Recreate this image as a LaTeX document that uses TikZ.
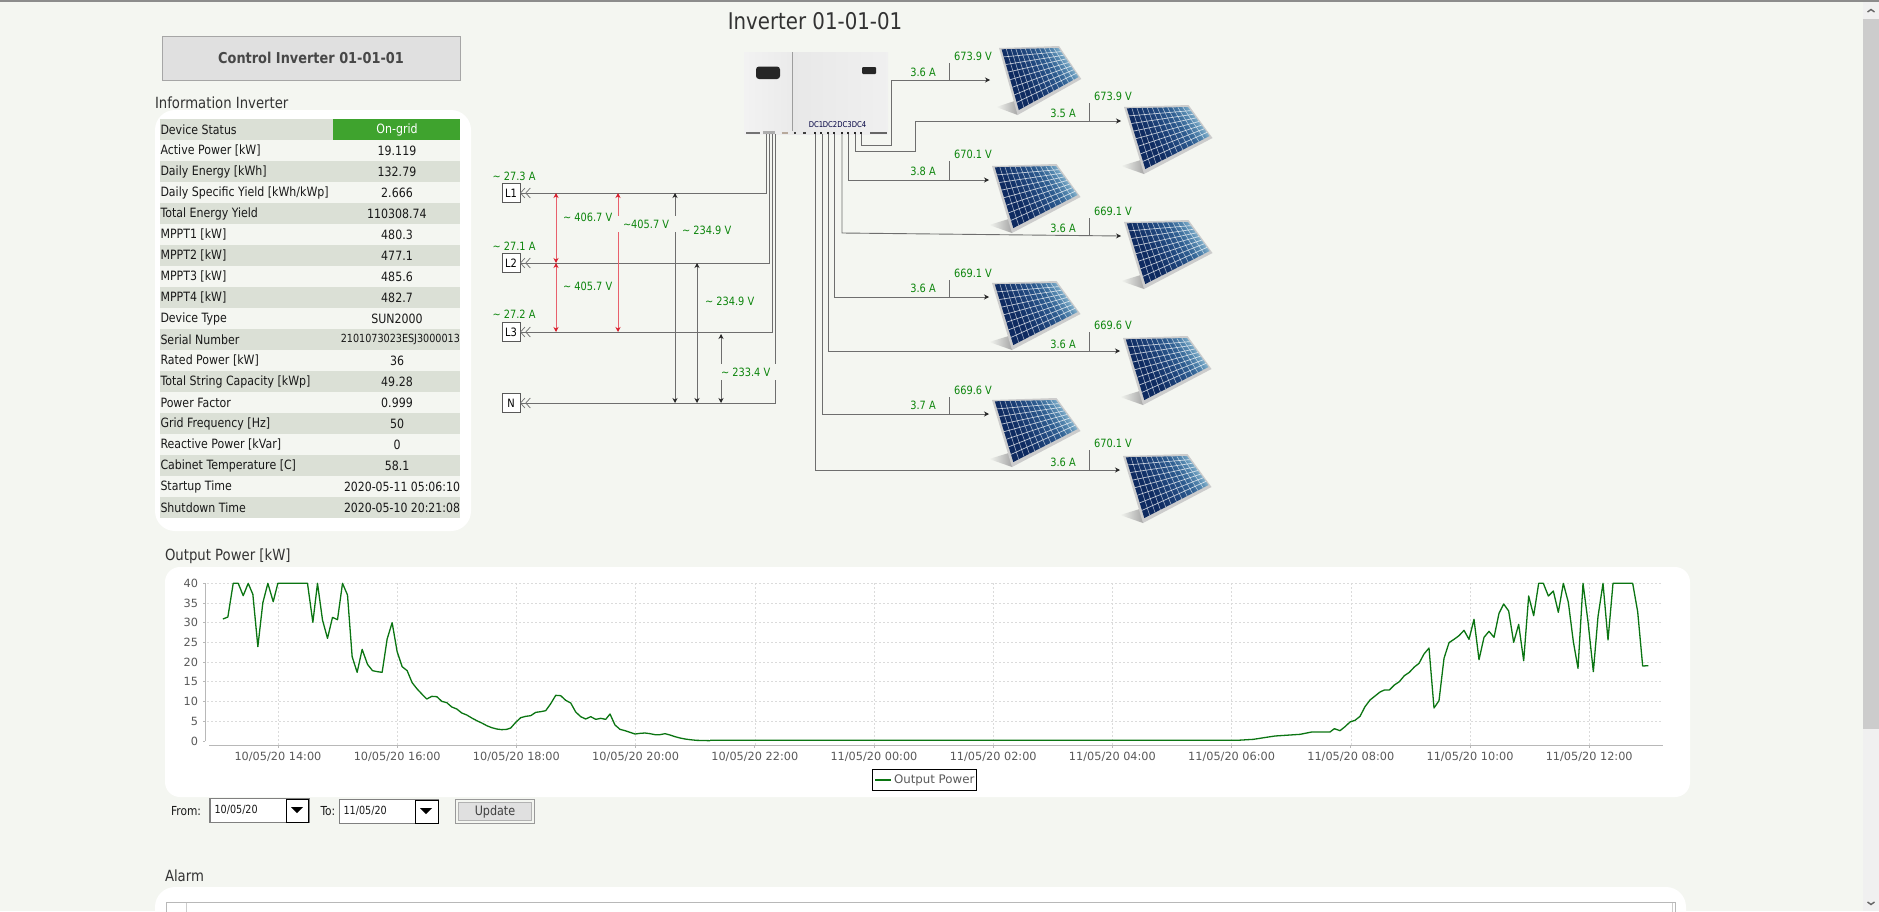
\documentclass[tikz,border=0pt]{standalone}
\usepackage{fontspec}
\usetikzlibrary{arrows.meta,calc}
\setmainfont{DejaVu Sans}
\newfontfamily\tah[FakeStretch=0.86]{DejaVu Sans}
\definecolor{pagebg}{HTML}{F4F6F1}
\definecolor{rowbg}{HTML}{DBE0D6}
\definecolor{wire}{HTML}{6E6E6E}
\definecolor{lblgreen}{HTML}{0C850C}
\definecolor{redwire}{HTML}{E8606C}
\definecolor{redtip}{HTML}{D81E2C}
\definecolor{curvegreen}{HTML}{0B7512}
\definecolor{navy}{HTML}{0E2A60}
\definecolor{midblue}{HTML}{1F457C}
\definecolor{steelblue}{HTML}{2F5F92}
\definecolor{lightblue}{HTML}{5A8DB3}
\definecolor{skyblue}{HTML}{A4CBDD}
\definecolor{ongreen}{HTML}{3FA32E}
\pgfdeclarehorizontalshading{pvshade}{100bp}{color(0bp)=(navy);color(38bp)=(navy);color(52bp)=(midblue);color(62bp)=(steelblue);color(70bp)=(lightblue);color(76bp)=(skyblue);color(100bp)=(skyblue)}
\tikzset{
  txt/.style={inner sep=0pt,outer sep=0pt,font=\tah\fontsize{12.8}{15}\selectfont,text=black!90},
  head/.style={txt,font=\tah\fontsize{15.4}{17}\selectfont,text=black!80},
  vlbl/.style={inner sep=0pt,outer sep=0pt,font=\tah\fontsize{11.4}{13}\selectfont,text=lblgreen},
  axl/.style={inner sep=0pt,outer sep=0pt,font=\fontsize{11.3}{13}\selectfont,text=black!65},
  conn/.style={draw=wire,line width=0.9pt},
  tipc/.style={conn,-{Stealth[length=5pt,width=5pt,color=black!85]}},
  volt/.style={conn,{Stealth[length=5pt,width=5pt,color=black!85]}-{Stealth[length=5pt,width=5pt,color=black!85]}},
  rvolt/.style={draw=redwire,line width=0.9pt,{Stealth[length=5pt,width=5pt,color=redtip]}-{Stealth[length=5pt,width=5pt,color=redtip]}},
  chev/.style={conn,-{Straight Barb[length=4.5pt,width=10pt,line width=.7pt]Straight Barb[length=4.5pt,width=10pt,line width=.7pt]}},
  phase/.style={draw=black!65,fill=white,line width=.9pt,minimum width=18pt,minimum height=19pt,inner sep=0pt,outer sep=0pt,font=\tah\fontsize{11.5}{13}\selectfont},
  griddash/.style={draw=black!14,line width=.6pt,dash pattern=on 2pt off 2pt},
  axisline/.style={draw=black!28,line width=.9pt},
  curve/.style={draw=curvegreen,line width=1.3pt,line join=round},
  selbox/.style={draw=black!50,line width=1.3pt,fill=white},
  selbtn/.style={draw=black,line width=1pt,fill=white}
}
\newcommand{\pvpanel}[3]{%
  \begin{scope}[shift={(#1,#2)},xscale=#3]
    \shade[left color=pagebg,right color=black!35] (-3,59) -- (20,52) -- (20,67) -- cycle;
    \fill[black!20] (0,0) -- (64.5,-2) -- (88.5,31) -- (20,67) -- cycle;
    \coordinate (PA) at (2.8,1.3); \coordinate (PB) at (64,0); \coordinate (PC) at (85.6,29); \coordinate (PD) at (21.3,62);
    \shade[shading=pvshade,shading angle=35] (PA) -- (PB) -- (PC) -- (PD) -- cycle;
    \foreach \t in {1,...,11}{\draw[white,opacity=.62,line width=.6pt] ($(PA)!\t/12!(PB)$) -- ($(PD)!\t/12!(PC)$);}
    \foreach \t in {1,...,7}{\draw[white,opacity=.72,line width=.7pt] ($(PA)!\t/8!(PD)$) -- ($(PB)!\t/8!(PC)$);}
  \end{scope}}
\newcommand{\rowfill}[2]{\ifnum#1=1 \fill[rowbg] (160,{119+21*(#2)}) rectangle (460,{140+21*(#2)});\else \fill[pagebg] (160,{119+21*(#2)}) rectangle (460,{140+21*(#2)});\fi}
\newcommand{\tabrow}[4]{%
  \rowfill{#1}{#2}
  \node[txt,anchor=west] (rowl#2) at (160.5,{129.5+21*(#2)}) {#3};
  \node[txt] (rowv#2) at (397,{129.5+21*(#2)}) {#4};}
\newcommand{\tabrowr}[5]{%
  \rowfill{#1}{#2}
  \node[txt,anchor=west] (rowl#2) at (160.5,{129.5+21*(#2)}) {#3};
  \node[txt,anchor=east,font=\tah\fontsize{#5}{14}\selectfont] (rowv#2) at (460,{129.5+21*(#2)}) {#4};}
\begin{document}
\begin{tikzpicture}[x=1pt,y=-1pt]
\useasboundingbox (0,0) rectangle (1879,911);
\fill[pagebg] (0,0) rectangle (1879,911);
\fill[black!45] (0,0) rectangle (1879,1.5);

% scrollbar
\fill[black!6] (1863,1.5) rectangle (1879,911);
\fill[black!20] (1863,19) rectangle (1879,729);
\draw[black!60,line width=1.4pt] (1867.5,12) -- (1871,9.5) -- (1874.5,12);
\draw[black!60,line width=1.4pt] (1867.5,902) -- (1871,904.5) -- (1874.5,902);

% title and button
\node[head,font=\tah\fontsize{23}{25}\selectfont] (title) at (815,21) {Inverter 01-01-01};
\node[draw=black!35,fill=black!12,line width=.9pt,minimum width=298pt,minimum height=44pt,inner sep=0pt,outer sep=0pt,font=\tah\bfseries\fontsize{15}{17}\selectfont,text=black!72] (ctrl) at (311,58) {Control Inverter 01-01-01};

% information table
\node[head,anchor=west] (infohead) at (155,103) {Information Inverter};
\fill[white,rounded corners=20pt] (155,110) rectangle (471,531);
\tabrow{1}{0}{Device Status}{}
\fill[ongreen] (333,119) rectangle (460,140);
\node[txt,text=white] (rowv0b) at (397,129.5) {On-grid};
\tabrow{0}{1}{Active Power [kW]}{19.119}
\tabrow{1}{2}{Daily Energy [kWh]}{132.79}
\tabrow{0}{3}{Daily Specific Yield [kWh/kWp]}{2.666}
\tabrow{1}{4}{Total Energy Yield}{110308.74}
\tabrow{0}{5}{MPPT1 [kW]}{480.3}
\tabrow{1}{6}{MPPT2 [kW]}{477.1}
\tabrow{0}{7}{MPPT3 [kW]}{485.6}
\tabrow{1}{8}{MPPT4 [kW]}{482.7}
\tabrow{0}{9}{Device Type}{SUN2000}
\tabrowr{1}{10}{Serial Number}{2101073023ESJ3000013}{11.2}
\tabrow{0}{11}{Rated Power [kW]}{36}
\tabrow{1}{12}{Total String Capacity [kWp]}{49.28}
\tabrow{0}{13}{Power Factor}{0.999}
\tabrow{1}{14}{Grid Frequency [Hz]}{50}
\tabrow{0}{15}{Reactive Power [kVar]}{0}
\tabrow{1}{16}{Cabinet Temperature [C]}{58.1}
\tabrowr{0}{17}{Startup Time}{2020-05-11 05:06:10}{12.7}
\tabrowr{1}{18}{Shutdown Time}{2020-05-10 20:21:08}{12.7}

% inverter
\shade[left color=black!5,right color=black!8] (744,52) rectangle (792,134);
\shade[left color=black!9,right color=black!6] (792,52) rectangle (888,134);
\draw[black!38,line width=.9pt] (792,52) -- (792,131);
\fill[black!85,rounded corners=3pt] (756,66.5) rectangle (780,79);
\fill[black!85,rounded corners=1pt] (862,67) rectangle (876,74);
\fill[black!55] (745.5,132) rectangle (760,134);
\fill[black!32] (763,131) rectangle (775,134);
\fill[brown!50!black!45] (782,131.5) rectangle (788,134);
\fill[black!75] (794,132) rectangle (796,133.5);
\fill[black!75] (803,132) rectangle (806,133.5);
\fill[black!60] (870,132) rectangle (887,134);
\foreach \px/\pn in {815/a,821/b,828/c,834/d,842/e,848/f,855/g,861/h}{\fill[black!85] (\px-1,131.5) rectangle (\px+1,134);}
\foreach \dx/\dl in {816/DC1,830/DC2,844.5/DC3,859/DC4}{\node[inner sep=0pt,font=\tah\fontsize{8}{10}\selectfont,text=black!75!blue] (lab\dl) at (\dx,125) {\dl};}

% panels
\pvpanel{999}{48}{.93}
\pvpanel{1124}{107}{1}
\pvpanel{992}{166}{1}
\pvpanel{1124}{222}{1}
\pvpanel{992}{283}{1}
\pvpanel{1123}{338}{1}
\pvpanel{992}{400}{1}
\pvpanel{1123}{456}{1}

% phase terminals
\node[phase] (L1) at (511,193) {L1};
\node[phase] (L2) at (511,263) {L2};
\node[phase] (L3) at (511,332) {L3};
\node[phase] (N) at (511,403) {N};
\node[vlbl] (iL1) at (514,176) {\textasciitilde{} 27.3 A};
\node[vlbl] (iL2) at (514,246) {\textasciitilde{} 27.1 A};
\node[vlbl] (iL3) at (514,314) {\textasciitilde{} 27.2 A};

% AC wires
\coordinate (ac1) at (766,134);
\coordinate (ac2) at (769,134);
\coordinate (ac3) at (772,134);
\coordinate (ac4) at (775,134);
\draw[chev] (ac1) |- (L1.east);
\draw[chev] (ac2) |- (L2.east);
\draw[chev] (ac3) |- (L3.east);
\draw[chev] (ac4) |- (N.east);

% voltage arrows
\coordinate (v1a) at (556,193); \coordinate (v1b) at (556,263);
\coordinate (v2a) at (556,263); \coordinate (v2b) at (556,332);
\coordinate (v3a) at (618,193); \coordinate (v3b) at (618,332);
\coordinate (v4a) at (675,193); \coordinate (v4b) at (675,403);
\coordinate (v5a) at (697,263); \coordinate (v5b) at (697,403);
\coordinate (v6a) at (721,334); \coordinate (v6b) at (721,403);
\draw[rvolt] (v1a) -- (v1b);
\draw[rvolt] (v2a) -- (v2b);
\draw[rvolt] (v3a) -- (v3b);
\draw[volt] (v4a) -- (v4b);
\draw[volt] (v5a) -- (v5b);
\draw[volt] (v6a) -- (v6b);
\fill[pagebg] (615,216) rectangle (621,232);
\fill[pagebg] (672,216) rectangle (678,232);
\fill[pagebg] (718,364) rectangle (778,380);
\node[vlbl,anchor=west] (u1) at (563,217) {\textasciitilde{} 406.7 V};
\node[vlbl,anchor=west] (u2) at (563,286) {\textasciitilde{} 405.7 V};
\node[vlbl,anchor=west] (u3) at (623,224) {\textasciitilde 405.7 V};
\node[vlbl,anchor=west] (u4) at (682,230) {\textasciitilde{} 234.9 V};
\node[vlbl,anchor=west] (u5) at (705,301) {\textasciitilde{} 234.9 V};
\node[vlbl,anchor=west] (u6) at (721,372) {\textasciitilde{} 233.4 V};

% DC wires
\coordinate (d1) at (861,134); \coordinate (s1) at (990,80);
\coordinate (d2) at (855,134); \coordinate (s2) at (1121,121);
\coordinate (d3) at (848,134); \coordinate (s3) at (989,180);
\coordinate (d4) at (842,134); \coordinate (s4) at (1121,236);
\coordinate (d5) at (834,134); \coordinate (s5) at (989,297);
\coordinate (d6) at (828,134); \coordinate (s6) at (1120,351);
\coordinate (d7) at (822,134); \coordinate (s7) at (989,414);
\coordinate (d8) at (815,134); \coordinate (s8) at (1120,470);
\draw[tipc] (d1) -- (861,145) -- (891,145) -- (891,80) -- (s1);
\draw[tipc] (d2) -- (855,151) -- (915,151) -- (915,121) -- (s2);
\draw[tipc] (d3) |- (s3);
\draw[tipc] (d4) -- (842,233) -- (s4);
\draw[tipc] (d5) |- (s5);
\draw[tipc] (d6) |- (s6);
\draw[tipc] (d7) |- (s7);
\draw[tipc] (d8) |- (s8);
\draw[conn] (949,80) -- (949,63);
\draw[conn] (1089,121) -- (1089,103);
\draw[conn] (949,180) -- (949,161);
\draw[conn] (1089,235.7) -- (1089,218);
\draw[conn] (949,297) -- (949,280);
\draw[conn] (1089,351) -- (1089,332);
\draw[conn] (949,414) -- (949,397);
\draw[conn] (1089,470) -- (1089,450);
\foreach \n/\ax/\ay/\at/\vx/\vy/\vt in {
 1/923/72/3.6 A/973/56/673.9 V,
 2/1063/113/3.5 A/1113/96/673.9 V,
 3/923/171/3.8 A/973/154/670.1 V,
 4/1063/228/3.6 A/1113/211/669.1 V,
 5/923/288/3.6 A/973/273/669.1 V,
 6/1063/344/3.6 A/1113/325/669.6 V,
 7/923/405/3.7 A/973/390/669.6 V,
 8/1063/462/3.6 A/1113/443/670.1 V}{
 \node[vlbl] (ia\n) at (\ax,\ay) {\at};
 \node[vlbl] (ua\n) at (\vx,\vy) {\vt};}

% chart
\node[head,anchor=west] (charthead) at (165,556) {Output Power [kW]};
\fill[white,rounded corners=15pt] (165,567) rectangle (1690,797);
\foreach \v/\yy in {5/721.7,10/701.7,15/681.7,20/662.3,25/642.3,30/622.7,35/603.3,40/583.3}{
  \draw[griddash] (207,\yy) -- (1662,\yy);
  \draw[axisline] (203,\yy) -- (205.4,\yy);
  \node[axl,anchor=east] (yl\v) at (198,\yy) {\v};}
\node[axl,anchor=east] (yl0) at (198,741) {0};
\draw[axisline] (203,741) -- (205.4,741);
\foreach \k/\dl in {0/{10/05/20 14:00},1/{10/05/20 16:00},2/{10/05/20 18:00},3/{10/05/20 20:00},4/{10/05/20 22:00},5/{11/05/20 00:00},6/{11/05/20 02:00},7/{11/05/20 04:00},8/{11/05/20 06:00},9/{11/05/20 08:00},10/{11/05/20 10:00},11/{11/05/20 12:00}}{
  \draw[griddash] ({278+119.2*\k},583) -- ({278+119.2*\k},745);
  \draw[axisline] ({278+119.2*\k},745) -- ({278+119.2*\k},748);
  \node[axl] (xl\k) at ({278+119.2*\k},757) {\dl};}
\draw[axisline] (205.4,583) -- (205.4,741);
\draw[axisline] (209,745) -- (1663,745);
\begin{scope}[shift={(150,540)},x=0.35714pt,y=-0.33333pt]
\draw[curve] plot coordinates {(204,237)(218,231)(233,130)(247,130)(261,167)(275,130)(288,163)(302,320)(316,188)(330,130)(345,185)(358,130)(441,130)(456,247)(469,130)(483,240)(497,295)(511,232)(525,239)(539,130)(553,165)(566,350)(580,397)(594,328)(609,373)(623,392)(637,395)(650,397)(664,297)(678,248)(692,335)(706,380)(720,392)(734,428)(748,447)(762,463)(775,477)(789,469)(803,470)(817,484)(831,488)(845,501)(859,507)(873,519)(887,525)(901,534)(915,542)(929,549)(943,557)(957,563)(971,567)(985,569)(999,568)(1010,564)(1024,547)(1038,533)(1052,529)(1066,527)(1080,517)(1094,515)(1108,512)(1122,491)(1136,466)(1150,467)(1164,481)(1178,489)(1192,516)(1206,530)(1220,537)(1234,530)(1248,538)(1262,535)(1276,538)(1288,522)(1302,555)(1316,568)(1330,572)(1344,577)(1358,582)(1372,580)(1386,579)(1400,581)(1414,584)(1428,584)(1442,581)(1456,585)(1470,590)(1484,594)(1498,597)(1512,599)(1530,601)(1568,602)};
\end{scope}
\begin{scope}[shift={(1200,560)},x=0.33333pt,y=-0.33333pt]
\draw[curve] plot coordinates {(-1470,541)(110,541)(160,538)(205,531)(225,528)(300,523)(335,516)(390,516)(403,506)(420,512)(435,500)(450,486)(465,481)(480,469)(495,440)(510,420)(525,408)(540,396)(553,390)(568,390)(583,375)(598,365)(613,347)(628,337)(643,321)(657,310)(672,282)(687,264)(702,444)(717,422)(732,295)(747,248)(762,238)(777,227)(792,211)(807,238)(822,178)(837,299)(852,232)(867,214)(882,232)(897,160)(911,132)(926,153)(941,247)(956,193)(971,302)(986,108)(1001,167)(1016,70)(1030,70)(1045,108)(1060,93)(1075,157)(1090,70)(1105,127)(1120,245)(1134,325)(1149,70)(1164,185)(1180,335)(1194,170)(1209,70)(1224,240)(1239,70)(1298,70)(1313,155)(1328,318)(1345,317)};
\end{scope}
% legend
\draw[black,line width=.9pt,fill=white] (872.5,769.5) rectangle (976.5,790.5);
\draw[curve] (875,780) -- (891,780);
\node[axl,font=\fontsize{11.8}{14}\selectfont,anchor=west] (legend) at (894,780) {Output Power};

% date controls
\node[txt,anchor=west,font=\tah\fontsize{12.4}{14}\selectfont] (from) at (171,811) {From:};
\draw[selbox] (210,798.5) rectangle (309,822.5);
\draw[selbtn] (286,799) rectangle (308.5,822);
\fill[black] (291,807) -- (303,807) -- (297,813) -- cycle;
\node[txt,anchor=west,font=\tah\fontsize{11.2}{14}\selectfont] (d1txt) at (214.5,810) {10/05/20};
\node[txt,anchor=west,font=\tah\fontsize{12.4}{14}\selectfont] (to) at (320.5,811.5) {To:};
\draw[selbox] (339.5,799.5) rectangle (438.5,823.5);
\draw[selbtn] (415,800) rectangle (438,823);
\fill[black] (420,808) -- (432,808) -- (426,814) -- cycle;
\node[txt,anchor=west,font=\tah\fontsize{11.2}{14}\selectfont] (d2txt) at (343.5,811) {11/05/20};
\draw[black!40,fill=pagebg,line width=.9pt] (455.5,799.5) rectangle (534.5,823.5);
\node[draw=black!30,fill=black!12,line width=.8pt,minimum width=73pt,minimum height=18pt,inner sep=0pt,font=\tah\fontsize{13}{15}\selectfont,text=black!75] (upd) at (495,811.5) {Update};

% alarm
\node[head,anchor=west] (alarm) at (165,876) {Alarm};
\begin{scope}
\clip (0,0) rectangle (1879,911);
\fill[white,rounded corners=20pt] (155,887) rectangle (1686,945);
\draw[black!28,line width=.9pt] (166.5,915) -- (166.5,902.5) -- (1675,902.5) -- (1675,915);
\draw[black!20,line width=.7pt] (186,902.5) -- (186,915);
\draw[black!20,line width=.7pt] (1672.5,902.5) -- (1672.5,915);
\end{scope}
\end{tikzpicture}
\end{document}
